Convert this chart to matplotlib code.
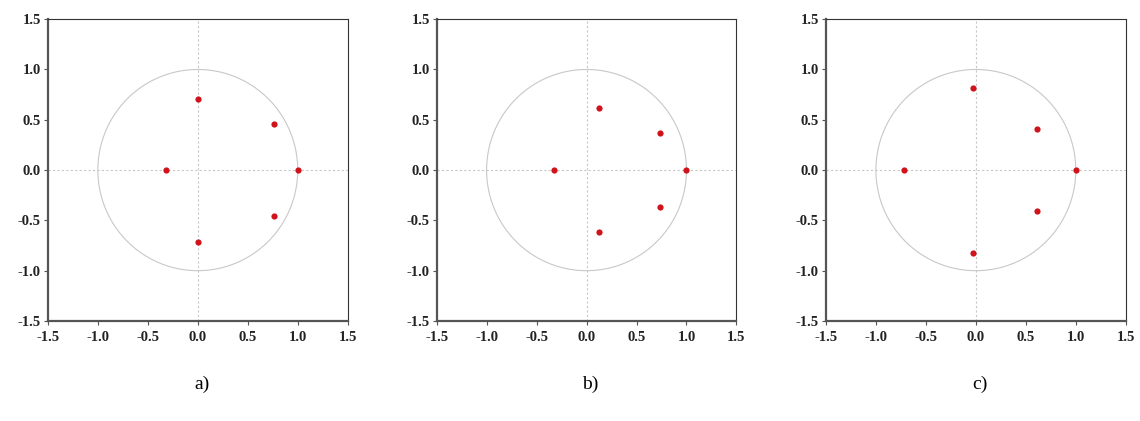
import matplotlib
matplotlib.use("Agg")
import matplotlib.pyplot as plt
import numpy as np

roots_a_re = [1.0, -0.32, 0.0, 0.0, 0.76, 0.76]
roots_a_im = [0.0, 0.0, 0.71, -0.71, 0.46, -0.46]
roots_b_re = [1.0, -0.33, 0.12, 0.12, 0.74, 0.74]
roots_b_im = [0.0, 0.0, 0.62, -0.62, 0.37, -0.37]
roots_c_re = [1.0, -0.72, -0.03, -0.03, 0.61, 0.61]
roots_c_im = [0.0, 0.0, 0.82, -0.82, 0.41, -0.41]
panel_labels = ["a)", "b)", "c)"]
ticks = [-1.5, -1.0, -0.5, 0.0, 0.5, 1.0, 1.5]

plt.rcParams["font.family"] = ["Liberation Serif", "DejaVu Serif"]

fig = plt.figure(figsize=(11.4, 4.21), dpi=100)
fig.patch.set_facecolor("white")

lefts = [0.042, 0.383, 0.7245]
panels = [(roots_a_re, roots_a_im), (roots_b_re, roots_b_im), (roots_c_re, roots_c_im)]
theta = np.linspace(0, 2 * np.pi, 400)

for left, (re, im), lab in zip(lefts, panels, panel_labels):
    ax = fig.add_axes([left, 0.2375, 0.263, 0.717])
    ax.plot(np.cos(theta), np.sin(theta), color="#c8c8c8", linewidth=0.8, zorder=1)
    ax.axhline(0, color="#c8c8c8", linestyle=(0, (2, 2)), linewidth=0.8, zorder=1)
    ax.axvline(0, color="#c8c8c8", linestyle=(0, (2, 2)), linewidth=0.8, zorder=1)
    ax.scatter(re, im, s=20, color="#d0121b", zorder=3, linewidths=0)
    ax.set_xlim(-1.5, 1.5)
    ax.set_ylim(-1.5, 1.5)
    ax.set_xticks(ticks)
    ax.set_yticks(ticks)
    ax.set_xticklabels([f"{t:.1f}" for t in ticks])
    ax.set_yticklabels([f"{t:.1f}" for t in ticks])
    for t in ax.get_xticklabels() + ax.get_yticklabels():
        t.set_fontweight("bold")
        t.set_fontsize(10.5)
        t.set_color("#222222")
    ax.tick_params(direction="out", length=3, width=0.8, colors="#555555",
                   labelcolor="#222222")
    ax.tick_params(axis="x", pad=4)
    ax.tick_params(axis="y", pad=2)
    for side in ["top", "right"]:
        ax.spines[side].set_color("#333333")
        ax.spines[side].set_linewidth(0.8)
    for side in ["left", "bottom"]:
        ax.spines[side].set_color("#555555")
        ax.spines[side].set_linewidth(1.6)
    cx = left + 0.263 / 2 + 0.0035
    fig.text(cx, 0.088, lab, ha="center", va="center", fontsize=14)

fig.savefig("out.png", dpi=100, facecolor="white")
